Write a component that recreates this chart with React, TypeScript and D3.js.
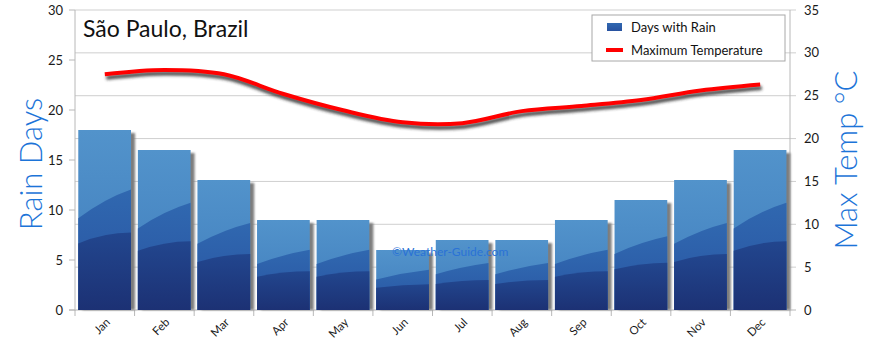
import * as d3 from "d3";

const months = ["Jan", "Feb", "Mar", "Apr", "May", "Jun", "Jul", "Aug", "Sep", "Oct", "Nov", "Dec"];
const rainDays = [18, 16, 13, 9, 9, 6, 7, 7, 9, 11, 13, 16];
const maxTemp = [27.5, 28, 27.5, 25.2, 23.3, 21.9, 21.8, 23.2, 23.8, 24.5, 25.6, 26.3];
const rainTicks = [0, 5, 10, 15, 20, 25, 30];
const tempTicks = [0, 5, 10, 15, 20, 25, 30, 35];

const W = 870;
const H = 352;
const margin = { top: 10, right: 80, bottom: 42, left: 75 };
const FONT = "Lato, 'Open Sans', sans-serif";
const BLUE_TITLE = "#1c74d8";

export default function App() {
  const x0 = margin.left;
  const x1 = W - margin.right;
  const y0 = H - margin.bottom;
  const y1 = margin.top;

  const x = d3.scaleBand<string>().domain(months).range([x0, x1]).padding(0);
  const yRain = d3.scaleLinear().domain([0, 30]).range([y0, y1]);
  const yTemp = d3.scaleLinear().domain([0, 35]).range([y0, y1]);

  const bw = x.bandwidth();
  const inset = bw * 0.055;
  const barW = bw * 0.885;

  const line = d3
    .line<number>()
    .x((_, i) => (x(months[i]) ?? 0) + bw / 2)
    .y((d) => yTemp(d))
    .curve(d3.curveCatmullRom.alpha(0.5));

  const layerPath = (bx: number, bwid: number, top: number, bottom: number, fl: number, fr: number) => {
    const h = bottom - top;
    const yl = bottom - fl * h;
    const yr = bottom - fr * h;
    const cx = bx + bwid * 0.5;
    const cy = (yl + yr) / 2 - h * 0.03;
    return `M${bx},${bottom}L${bx},${yl}Q${cx},${cy} ${bx + bwid},${yr}L${bx + bwid},${bottom}Z`;
  };

  return (
    <svg
      width={W}
      height={H}
      style={{ position: "absolute", left: 0, top: 0, background: "#fff" }}
      fontFamily={FONT}
    >
      <defs>
        <linearGradient id="gTop" x1="0" y1="0" x2="0" y2="1">
          <stop offset="0" stopColor="#5293cb" />
          <stop offset="1" stopColor="#3f7cbc" />
        </linearGradient>
        <linearGradient id="gMid" x1="0" y1="0" x2="0" y2="1">
          <stop offset="0" stopColor="#3068b0" />
          <stop offset="1" stopColor="#2852a0" />
        </linearGradient>
        <linearGradient id="gBot" x1="0" y1="0" x2="0" y2="1">
          <stop offset="0" stopColor="#22468e" />
          <stop offset="1" stopColor="#1c3174" />
        </linearGradient>
        <filter id="blur" x="-10%" y="-50%" width="120%" height="200%">
          <feGaussianBlur stdDeviation="1.4" />
        </filter>
        <filter id="barShadow" x="-20%" y="-20%" width="140%" height="140%">
          <feGaussianBlur stdDeviation="0.8" />
        </filter>
      </defs>

      {/* gridlines from temperature scale */}
      {tempTicks.map((t) => (
        <line
          key={"g" + t}
          x1={x0}
          x2={x1 + 6}
          y1={yTemp(t)}
          y2={yTemp(t)}
          stroke={t === 0 ? "#b8b8b8" : "#cfcfcf"}
          strokeWidth={1}
        />
      ))}

      {/* axes lines */}
      <line x1={x0} x2={x0} y1={y1} y2={y0 + 1} stroke="#b8b8b8" />
      <line x1={x1} x2={x1} y1={y1} y2={y0 + 6} stroke="#b8b8b8" />
      <line x1={x0 - 6} x2={x0} y1={y0} y2={y0} stroke="#b8b8b8" />

      {/* left ticks */}
      {rainTicks.map((t) => (
        <g key={"l" + t}>
          <line x1={x0 - 6} x2={x0} y1={yRain(t)} y2={yRain(t)} stroke="#b8b8b8" />
          <text x={x0 - 12} y={yRain(t)} dy="0.35em" textAnchor="end" fontSize={13} fill="#1a1a1a">
            {t}
          </text>
        </g>
      ))}

      {/* right labels */}
      {tempTicks.map((t) => (
        <text key={"r" + t} x={x1 + 14} y={yTemp(t)} dy="0.35em" fontSize={13} fill="#1a1a1a">
          {t}
        </text>
      ))}

      {/* category ticks */}
      {months.map((m) => (
        <line
          key={"c" + m}
          x1={x(m) ?? 0}
          x2={x(m) ?? 0}
          y1={y0}
          y2={y0 + 6}
          stroke="#b8b8b8"
        />
      ))}

      {/* bars */}
      {months.map((m, i) => {
        const bx = (x(m) ?? 0) + inset;
        const top = yRain(rainDays[i]);
        const bottom = yRain(0);
        return (
          <g key={"b" + m}>
            <rect
              x={bx + 4}
              y={top + 3}
              width={barW}
              height={bottom - top - 3}
              fill="#7d7d7d"
              filter="url(#barShadow)"
            />
            <rect x={bx} y={top} width={barW} height={bottom - top} fill="url(#gTop)" />
            <path d={layerPath(bx, barW, top, bottom, 0.51, 0.67)} fill="url(#gMid)" />
            <path d={layerPath(bx, barW, top, bottom, 0.37, 0.43)} fill="url(#gBot)" />
          </g>
        );
      })}

      {/* temperature line */}
      <path
        d={line(maxTemp) ?? ""}
        fill="none"
        stroke="#2a2a2a"
        strokeWidth={4}
        opacity={0.85}
        transform="translate(1.5,3.5)"
        filter="url(#blur)"
      />
      <path d={line(maxTemp) ?? ""} fill="none" stroke="#ff0000" strokeWidth={4} />

      {/* month labels */}
      {months.map((m) => {
        const cx = (x(m) ?? 0) + bw / 2 + 6;
        const cy = y0 + 13;
        return (
          <g key={"t" + m} transform={`translate(${cx},${cy}) rotate(-45)`}>
            <text x={0} y={0} textAnchor="end" fontSize={11.5} fill="#1a1a1a">
              {m}
            </text>
          </g>
        );
      })}

      {/* title */}
      <text x={x0 + 8} y={37} fontSize={23} fill="#111">
        São Paulo, Brazil
      </text>

      {/* watermark */}
      <text x={392} y={256} fontSize={12} fill="#2a72d6">
        ©Weather-Guide.com
      </text>

      {/* axis titles */}
      <text
        transform={`translate(42,${(y0 + y1) / 2 + 4}) rotate(-90)`}
        textAnchor="middle"
        fontSize={31}
        fontWeight={300}
        fill={BLUE_TITLE}
      >
        Rain Days
      </text>
      <text
        transform={`translate(857,${(y0 + y1) / 2}) rotate(-90)`}
        textAnchor="middle"
        fontSize={31}
        fontWeight={300}
        fill={BLUE_TITLE}
      >
        Max Temp °C
      </text>

      {/* legend */}
      <g>
        <rect x={592} y={15} width={193} height={46} fill="#fff" stroke="#a8a8a8" />
        <rect x={607} y={23} width={15} height={8} fill="url(#gMid)" />
        <text x={631} y={32} fontSize={13} fill="#111">
          Days with Rain
        </text>
        <line x1={606} x2={623} y1={50} y2={50} stroke="#ff0000" strokeWidth={4} />
        <text x={631} y={55} fontSize={13} fill="#111">
          Maximum Temperature
        </text>
      </g>
    </svg>
  );
}
